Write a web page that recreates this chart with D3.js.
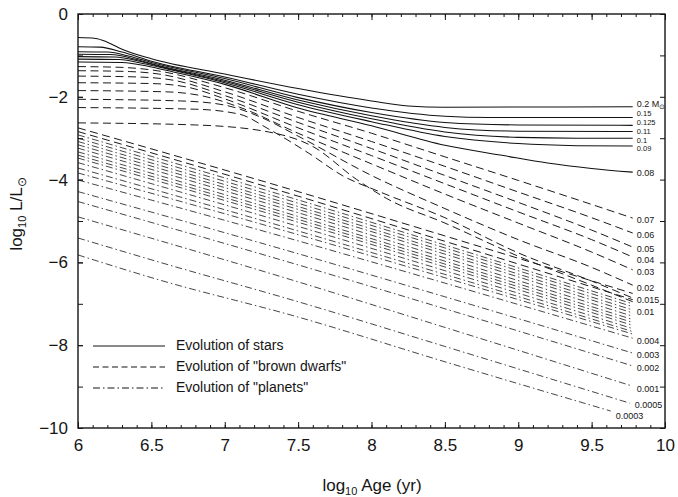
<!DOCTYPE html>
<html><head><meta charset="utf-8">
<script src="https://cdn.jsdelivr.net/npm/d3@7/dist/d3.min.js"></script>
<style>body{margin:0;background:#fff}svg{display:block}text{font-family:"Liberation Sans",Arial,Helvetica,sans-serif}</style>
</head><body><svg id="c" width="678" height="497"></svg>
<script>
// ---------- data (log10 age [yr], log10 L/Lsun) ----------
const xTickLabels = [6, 6.5, 7, 7.5, 8, 8.5, 9, 9.5, 10];
const yTickLabels = [0, -2, -4, -6, -8, -10];
const legendLabels = ["Evolution of stars", "Evolution of \"brown dwarfs\"", "Evolution of \"planets\""];

const starTracks = [
  {label: "0.2", pts: [[6,-0.57],[6.12,-0.59],[6.2,-0.68],[6.3,-0.85],[6.5,-1.08],[7,-1.45],[7.5,-1.8],[8,-2.1],[8.25,-2.22],[8.5,-2.25],[9.78,-2.24]]},
  {label: "0.15", pts: [[6,-0.79],[6.15,-0.8],[6.3,-0.92],[6.5,-1.14],[7,-1.52],[7.5,-1.94],[8,-2.27],[8.5,-2.47],[8.8,-2.5],[9.78,-2.5]]},
  {label: "0.125", pts: [[6,-0.91],[6.2,-0.92],[6.35,-1.02],[6.5,-1.17],[7,-1.56],[7.5,-2.02],[8,-2.38],[8.5,-2.62],[9,-2.68],[9.78,-2.69]]},
  {label: "0.11", pts: [[6,-0.97],[6.22,-0.98],[6.4,-1.1],[6.5,-1.2],[7,-1.6],[7.5,-2.08],[8,-2.46],[8.5,-2.74],[9,-2.83],[9.78,-2.84]]},
  {label: "0.1", pts: [[6,-1.03],[6.25,-1.04],[6.42,-1.14],[6.55,-1.26],[7,-1.63],[7.5,-2.13],[8,-2.53],[8.5,-2.85],[9,-2.98],[9.4,-3.0],[9.78,-3.0]]},
  {label: "0.09", pts: [[6,-1.09],[6.28,-1.1],[6.45,-1.2],[6.6,-1.32],[7,-1.66],[7.5,-2.19],[8,-2.6],[8.5,-2.96],[9,-3.13],[9.4,-3.18],[9.78,-3.19]]},
  {label: "0.08", pts: [[6,-1.16],[6.3,-1.17],[6.5,-1.28],[6.65,-1.4],[7,-1.7],[7.5,-2.27],[8,-2.7],[8.5,-3.17],[8.9,-3.42],[9.2,-3.6],[9.5,-3.73],[9.78,-3.82]]}
];

const dwarfTracks = [
  {label: "0.07", pts: [[6,-1.27],[6.3,-1.29],[6.5,-1.35],[7,-1.78],[7.5,-2.35],[8,-2.88],[8.5,-3.45],[9,-4.02],[9.5,-4.6],[9.78,-4.93]]},
  {label: "0.06", pts: [[6,-1.37],[6.35,-1.39],[6.55,-1.45],[7,-1.88],[7.5,-2.5],[8,-3.08],[8.5,-3.68],[9,-4.3],[9.5,-4.92],[9.78,-5.29]]},
  {label: "0.05", pts: [[6,-1.5],[6.4,-1.52],[6.65,-1.6],[7,-1.97],[7.5,-2.62],[8,-3.25],[8.5,-3.9],[9,-4.55],[9.5,-5.22],[9.78,-5.63]]},
  {label: "0.04", pts: [[6,-1.66],[6.5,-1.68],[6.75,-1.77],[7,-2.05],[7.5,-2.75],[8,-3.42],[8.5,-4.1],[9,-4.78],[9.5,-5.45],[9.78,-5.87]]},
  {label: "0.03", pts: [[6,-1.85],[6.6,-1.88],[6.85,-1.98],[7.1,-2.25],[7.5,-2.88],[8,-3.62],[8.5,-4.35],[9,-5.05],[9.5,-5.75],[9.78,-6.18]]},
  {label: "0.02", pts: [[6,-2.06],[6.7,-2.1],[7,-2.2],[7.25,-2.5],[7.5,-2.95],[8,-3.9],[8.5,-4.7],[9,-5.45],[9.5,-6.12],[9.78,-6.55]]},
  {label: "0.015", pts: [[6,-2.26],[6.8,-2.3],[7.1,-2.42],[7.3,-2.78],[7.58,-3.38],[7.8,-3.9],[8.06,-4.3],[8.5,-4.92],[9,-5.77],[9.5,-6.45],[9.78,-6.86]]},
  {label: "", pts: [[6,-2.63],[6.8,-2.68],[7.3,-2.85],[7.6,-3.2],[7.9,-4.0],[8.1,-4.45],[8.5,-5.05],[9,-5.85],[9.5,-6.55],[9.78,-6.95]]},
  {label: "", pts: [[6,-2.75],[7.5,-4.29],[8.5,-5.36],[9.78,-6.75]]},
  {label: "", pts: [[6,-2.84],[7.5,-4.4],[8.5,-5.49],[9.78,-6.9]]}
];

const planetTracks = [
  {label: "", pts: [[6,-2.92],[7.5,-4.49],[8.5,-5.58],[9.78,-7.0]]},
  {label: "", pts: [[6,-3.0],[7.5,-4.57],[8.5,-5.65],[9.78,-7.07]]},
  {label: "0.01", pts: [[6,-3.08],[7.5,-4.65],[8.5,-5.73],[9.78,-7.15]]},
  {label: "", pts: [[6,-3.16],[7.5,-4.72],[8.5,-5.8],[9.78,-7.22]]},
  {label: "", pts: [[6,-3.24],[7.5,-4.8],[8.5,-5.89],[9.78,-7.3]]},
  {label: "", pts: [[6,-3.33],[7.5,-4.89],[8.5,-5.97],[9.78,-7.38]]},
  {label: "", pts: [[6,-3.41],[7.5,-4.96],[8.5,-6.04],[9.78,-7.45]]},
  {label: "", pts: [[6,-3.48],[7.5,-5.03],[8.5,-6.11],[9.78,-7.52]]},
  {label: "", pts: [[6,-3.59],[7.5,-5.13],[8.5,-6.2],[9.78,-7.6]]},
  {label: "", pts: [[6,-3.72],[7.5,-5.24],[8.5,-6.29],[9.78,-7.67]]},
  {label: "", pts: [[6,-3.84],[7.5,-5.33],[8.5,-6.37],[9.78,-7.73]]},
  {label: "0.004", pts: [[6,-4.01],[7.5,-5.48],[8.5,-6.5],[9.78,-7.83]]},
  {label: "0.003", pts: [[6,-4.29],[7.5,-5.79],[8.5,-6.83],[9.78,-8.19]]},
  {label: "0.002", pts: [[6,-4.53],[7.5,-6.06],[8.5,-7.12],[9.78,-8.5]]},
  {label: "0.001", pts: [[6,-4.9],[7.5,-6.47],[8.5,-7.57],[9.78,-8.99]]},
  {label: "0.0005", pts: [[6,-5.41],[6.56,-6.0],[7.5,-6.95],[8.5,-8.03],[9.76,-9.4]]},
  {label: "0.0003", pts: [[6,-5.82],[6.56,-6.43],[7.5,-7.32],[8.5,-8.4],[9.63,-9.59]]}
];

// ---------- drawing ----------
const svg = d3.select("#c");
const m = {l: 78, r: 665, t: 14, b: 428};
const x = d3.scaleLinear().domain([6, 10]).range([m.l, m.r]);
const y = d3.scaleLinear().domain([0, -10]).range([m.t, m.b]);
const ink = "#151515";

const line = d3.line().x(d => x(d[0])).y(d => y(d[1])).curve(d3.curveMonotoneX);

const styles = {
  star: {dash: null, w: 1.05, c: "#111"},
  dwarf: {dash: "8,4.5", w: 1.0, c: "#1a1a1a"},
  planet: {dash: "7,3,1.5,3", w: 0.85, c: "#262626"}
};

function drawGroup(tracks, st) {
  svg.append("g").selectAll("path").data(tracks).join("path")
    .attr("d", d => line(d.pts))
    .attr("fill", "none")
    .attr("stroke", styles[st].c)
    .attr("stroke-width", styles[st].w)
    .attr("stroke-dasharray", styles[st].dash);
}
drawGroup(planetTracks, "planet");
drawGroup(dwarfTracks, "dwarf");
drawGroup(starTracks, "star");

// end labels (offsets in px from the line end; crowded star labels spread slightly)
const labelNudge = {
  "0.2": [4, -1.9], "0.15": [4, -3], "0.125": [4, -2.2], "0.11": [4, 0.3],
  "0.1": [4, 2.4], "0.09": [4, 3.2], "0.08": [4, 1.5],
  "0.04": [4, 3.8], "0.0005": [5, 2], "0.0003": [5, 6]
};
const crowded = new Set(["0.15", "0.125", "0.11", "0.1", "0.09"]);
const allTracks = starTracks.concat(dwarfTracks, planetTracks).filter(d => d.label);
const lg = svg.append("g").attr("fill", ink);
allTracks.forEach(d => {
  const last = d.pts[d.pts.length - 1];
  const nd = labelNudge[d.label] || [4, 3];
  const t = lg.append("text")
    .attr("x", x(last[0]) + nd[0])
    .attr("y", y(last[1]) + nd[1])
    .attr("font-size", crowded.has(d.label) ? 7.5 : 9)
    .attr("dominant-baseline", "middle");
  if (d.label === "0.2") {
    t.append("tspan").text("0.2 M");
    t.append("tspan").attr("font-size", 7).attr("dy", 2.5).text("\u2299");
  } else {
    t.text(d.label);
  }
});

// frame
svg.append("rect").attr("x", m.l).attr("y", m.t).attr("width", m.r - m.l).attr("height", m.b - m.t)
  .attr("fill", "none").attr("stroke", ink).attr("stroke-width", 1.4);

// axes
function styleAxis(g) {
  g.select(".domain").remove();
  g.selectAll("line").attr("stroke", ink).attr("stroke-width", 1);
  g.selectAll("text").attr("font-size", 17).attr("fill", ink)
    .attr("font-family", "\"Liberation Sans\",Arial,sans-serif");
}
const xMinor = d3.range(60, 101).map(v => v / 10);
const yMinor = d3.range(0, 11).map(v => -v);

svg.append("g").attr("transform", `translate(0,${m.b})`)
  .call(d3.axisBottom(x).tickValues(xMinor).tickSize(-3).tickFormat("")).call(styleAxis);
svg.append("g").attr("transform", `translate(0,${m.b})`)
  .call(d3.axisBottom(x).tickValues(xTickLabels).tickSize(-6).tickPadding(11).tickFormat(d3.format("~g"))).call(styleAxis);
svg.append("g").attr("transform", `translate(0,${m.t})`)
  .call(d3.axisTop(x).tickValues(xMinor).tickSize(-3).tickFormat("")).call(styleAxis);
svg.append("g").attr("transform", `translate(0,${m.t})`)
  .call(d3.axisTop(x).tickValues(xTickLabels).tickSize(-6).tickFormat("")).call(styleAxis);

svg.append("g").attr("transform", `translate(${m.l},0)`)
  .call(d3.axisLeft(y).tickValues(yMinor).tickSize(-5).tickFormat("")).call(styleAxis);
svg.append("g").attr("transform", `translate(${m.l},0)`)
  .call(d3.axisLeft(y).tickValues(yTickLabels).tickSize(-5).tickPadding(10).tickFormat(d3.format("d"))).call(styleAxis);
svg.append("g").attr("transform", `translate(${m.r},0)`)
  .call(d3.axisRight(y).tickValues(yMinor).tickSize(-5).tickFormat("")).call(styleAxis);

// axis titles
const xt = svg.append("text").attr("x", 372).attr("y", 491).attr("text-anchor", "middle")
  .attr("font-size", 17).attr("fill", ink);
xt.append("tspan").text("log");
xt.append("tspan").attr("font-size", 11).attr("dy", 4).text("10");
xt.append("tspan").attr("dy", -4).text(" Age (yr)");

const yt = svg.append("text").attr("transform", "translate(22,214) rotate(-90)").attr("text-anchor", "middle")
  .attr("font-size", 17).attr("fill", ink);
yt.append("tspan").text("log");
yt.append("tspan").attr("font-size", 11).attr("dy", 4).text("10");
yt.append("tspan").attr("dy", -4).text(" L/L");
yt.append("tspan").attr("font-size", 12).attr("dy", 4).text("\u2299");

// legend
const legDash = [null, "6,3.5", "7,3,1.5,3"];
const leg = svg.append("g");
legendLabels.forEach((t, i) => {
  const yy = 346 + i * 21;
  leg.append("line").attr("x1", 93).attr("x2", 165).attr("y1", yy).attr("y2", yy)
    .attr("stroke", ink).attr("stroke-width", 1).attr("stroke-dasharray", legDash[i]);
  leg.append("text").attr("x", 176).attr("y", yy).attr("dominant-baseline", "middle")
    .attr("font-size", 14).attr("fill", ink).text(t);
});
</script>
</body></html>
